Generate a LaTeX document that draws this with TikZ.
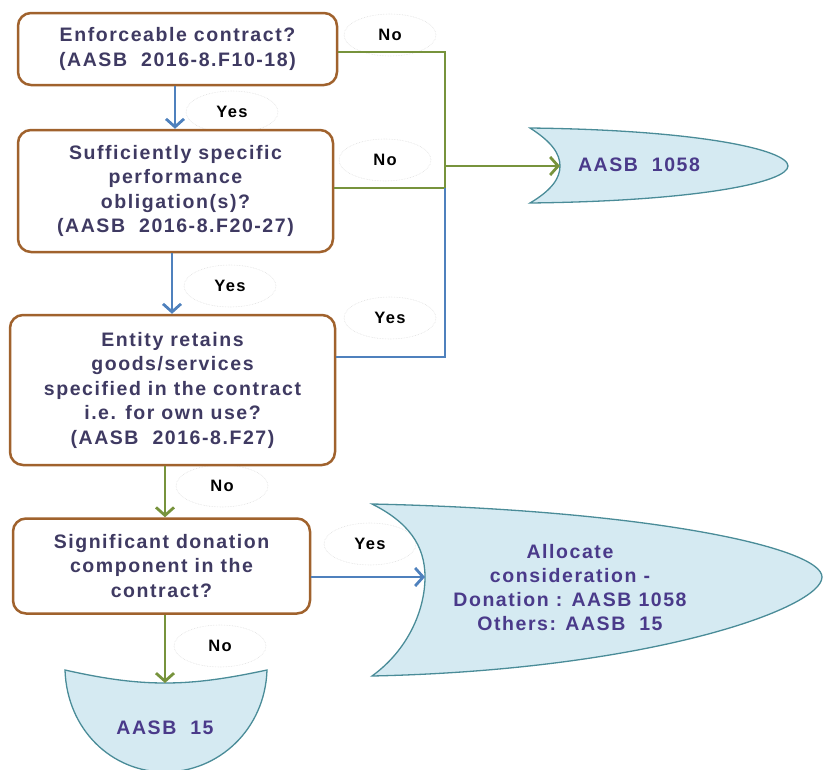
\documentclass[tikz,border=0pt]{standalone}
\usepackage{fontspec}
\setmainfont{Liberation Sans}
\usetikzlibrary{arrows.meta,shapes.geometric}
\definecolor{boxbrown}{HTML}{A0622D}
\definecolor{qtext}{HTML}{3F3A62}
\definecolor{stext}{HTML}{4A3A8A}
\definecolor{gline}{HTML}{77933C}
\definecolor{bline}{HTML}{4F81BD}
\definecolor{sfill}{HTML}{D5EAF2}
\definecolor{sdraw}{HTML}{4A8C98}
\begin{document}
\begin{tikzpicture}[x=1pt,y=-1pt,
  qbox/.style={draw=boxbrown, line width=2.5pt, rounded corners=13pt, fill=white,
    text=qtext, align=center, inner sep=0pt,
    font=\bfseries\fontsize{19.5}{24.5}\selectfont\addfontfeatures{LetterSpace=8}},
  stxt/.style={text=stext, align=center, inner sep=0pt,
    font=\bfseries\fontsize{19.5}{24}\selectfont\addfontfeatures{LetterSpace=8}},
  lab/.style={ellipse, draw=black!12, densely dotted, line width=0.6pt, fill=white,
    minimum width=92pt, minimum height=42pt, inner sep=0pt,
    font=\bfseries\fontsize{16.5}{18}\selectfont\addfontfeatures{LetterSpace=8}},
  shp/.style={fill=sfill, draw=sdraw, line width=1.3pt},
  tip/.style={-{Straight Barb[length=8pt,width=18pt,line width=2.8pt]}},
  garrow/.style={draw=gline, line width=2.8pt, tip},
  barrow/.style={draw=bline, line width=2.8pt, tip},
  gcon/.style={draw=gline, line width=2.8pt},
  bcon/.style={draw=bline, line width=2.8pt}]
\useasboundingbox (0,0) rectangle (825,769);

% labels (behind everything)
\node[lab] (l1) at (390,35) {No};
\node[lab] (l2) at (232,112) {Yes};
\node[lab] (l3) at (385,160) {No};
\node[lab] (l4) at (230,286) {Yes};
\node[lab] (l5) at (390,318) {Yes};
\node[lab] (l6) at (222,486) {No};
\node[lab] (l7) at (370,544) {Yes};
\node[lab] (l8) at (220,646) {No};

% output shapes
\path[shp] (530,128) .. controls (700,130) and (788,150) .. (788,166)
  .. controls (788,182) and (700,201) .. (530,203)
  .. controls (552,190) and (560,178) .. (560,166)
  .. controls (560,154) and (552,142) .. (530,128) -- cycle;
\coordinate (n1058) at (560,166);
\node[stxt] (t1058) at (639,165) {AASB\ \ 1058};

\path[shp] (372,504) .. controls (650,510) and (822,548) .. (822,577)
  .. controls (822,608) and (650,670) .. (372,676)
  .. controls (408,650) and (425,610) .. (425,577)
  .. controls (425,545) and (408,522) .. (372,504) -- cycle;
\coordinate (nalloc) at (425,577);
\node[stxt] (talloc) at (570,588) {Allocate\\consideration -\\Donation : AASB\ 1058\\Others: AASB\ \ 15};

\path[shp] (65,670) .. controls (105,679) and (135,683) .. (165,683)
  .. controls (195,683) and (225,679) .. (267,670)
  .. controls (265,730) and (218,772) .. (165,772)
  .. controls (112,772) and (67,730) .. (65,670) -- cycle;
\coordinate (n15) at (165,683);
\node[stxt] (t15) at (165,728) {AASB\ \ 15};

% question boxes
\node[qbox, minimum width=319pt, minimum height=72pt] (b1) at (177.5,49)
  {Enforceable contract?\\(AASB\ \ 2016-8.F10-18)};
\node[qbox, minimum width=315pt, minimum height=122pt] (b2) at (175.5,191)
  {Sufficiently specific\\performance\\obligation(s)?\\(AASB\ \ 2016-8.F20-27)};
\node[qbox, minimum width=325pt, minimum height=150pt] (b3) at (172.5,390)
  {Entity retains\\goods/services\\specified in the contract\\i.e. for own use?\\(AASB\ \ 2016-8.F27)};
\node[qbox, minimum width=297pt, minimum height=95pt] (b4) at (161.5,566)
  {Significant donation\\component in the\\contract?};

% junctions
\coordinate (j1) at (445,166);
\coordinate (j2) at (445,188);

% connectors
\draw[gcon] ([yshift=-3pt]b1.east) -| (j2);
\draw[gcon] (b2.east |- j2) -- (j2);
\draw[bcon] ([yshift=33pt]b3.east) -| (j2);
\draw[garrow] (j1) -- (n1058);
\draw[barrow] (b1.south -| 175,0) -- (b2.north -| 175,0);
\draw[barrow] (b2.south -| 172,0) -- (b3.north -| 172,0);
\draw[garrow] (b3.south -| 165,0) -- (b4.north -| 165,0);
\draw[garrow] (b4.south -| 165,0) -- (n15);
\draw[barrow] (b4.east |- nalloc) -- (nalloc);
\end{tikzpicture}
\end{document}
